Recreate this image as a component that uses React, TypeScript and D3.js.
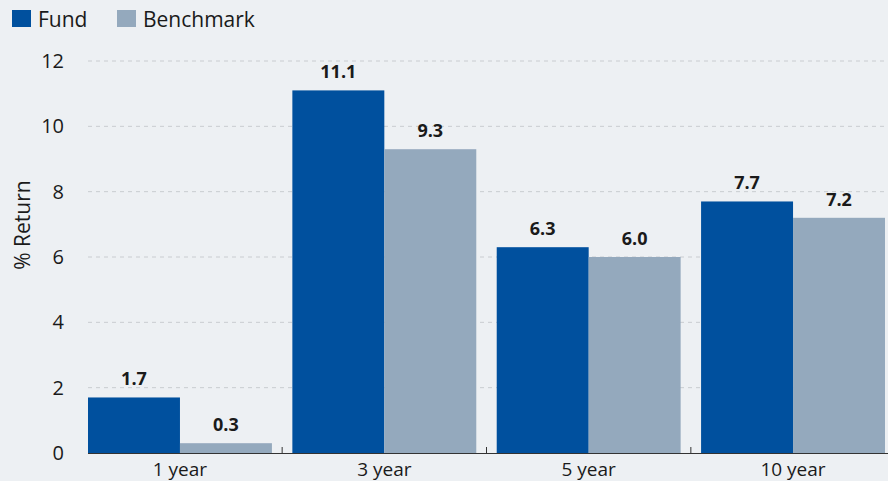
import React, { useEffect, useRef } from 'react';
import * as d3 from 'd3';

const periods = ['1 year', '3 year', '5 year', '10 year'];
const fundValues = [1.7, 11.1, 6.3, 7.7];
const benchmarkValues = [0.3, 9.3, 6.0, 7.2];
const yTicks = [0, 2, 4, 6, 8, 10, 12];
const seriesNames = ['Fund', 'Benchmark'];

const W = 888;
const H = 481;
const FONT = '"Open Sans", "Noto Sans", sans-serif';
const colors = ['#00509e', '#94a9bd'];

const App = () => {
    const svgRef = useRef<SVGSVGElement | null>(null);

    useEffect(() => {
        if (!svgRef.current) return;
        const svg = d3.select(svgRef.current);
        svg.selectAll('*').remove();

        svg.append('rect').attr('width', W).attr('height', H).attr('fill', '#edf0f3');

        const x = d3.scaleBand<string>().domain(periods).range([88, 885]).paddingInner(0.1).paddingOuter(0);
        const y = d3.scaleLinear().domain([0, 12]).range([453, 61]);
        const inner = d3.scaleBand<string>().domain(seriesNames).range([0, x.bandwidth()]);

        // gridlines
        svg.append('g')
            .selectAll('line')
            .data(yTicks.filter((t) => t > 0))
            .enter()
            .append('line')
            .attr('x1', 88)
            .attr('x2', 885)
            .attr('y1', (d) => y(d))
            .attr('y2', (d) => y(d))
            .attr('stroke', '#c9ccd0')
            .attr('stroke-width', 1)
            .attr('stroke-dasharray', '4,4');

        // y tick labels
        svg.append('g')
            .selectAll('text')
            .data(yTicks)
            .enter()
            .append('text')
            .attr('x', 64)
            .attr('y', (d) => y(d) + 7)
            .attr('text-anchor', 'end')
            .attr('font-family', FONT)
            .attr('font-size', 20)
            .attr('fill', '#1a1a1a')
            .text((d) => d);

        // y title
        svg.append('text')
            .attr('transform', `translate(30, 225) rotate(-90)`)
            .attr('text-anchor', 'middle')
            .attr('font-family', FONT)
            .attr('font-size', 21)
            .attr('fill', '#1a1a1a')
            .text('% Return');

        // bars
        const groups = svg.append('g')
            .selectAll('g')
            .data(periods)
            .enter()
            .append('g')
            .attr('transform', (d) => `translate(${x(d)},0)`);

        const series = [fundValues, benchmarkValues];
        groups.each(function (p, i) {
            const g = d3.select(this);
            series.forEach((vals, s) => {
                const v = vals[i];
                g.append('rect')
                    .attr('x', inner(seriesNames[s])!)
                    .attr('y', y(v))
                    .attr('width', inner.bandwidth())
                    .attr('height', y(0) - y(v))
                    .attr('fill', colors[s]);
                g.append('text')
                    .attr('x', inner(seriesNames[s])! + inner.bandwidth() / 2)
                    .attr('y', y(v) - 12)
                    .attr('text-anchor', 'middle')
                    .attr('font-family', FONT)
                    .attr('font-size', 18)
                    .attr('font-weight', 'bold')
                    .attr('fill', '#1a1a1a')
                    .text(v.toFixed(1));
            });
        });

        // x axis
        svg.append('line')
            .attr('x1', 88)
            .attr('x2', 888)
            .attr('y1', 453.5)
            .attr('y2', 453.5)
            .attr('stroke', '#333')
            .attr('stroke-width', 1.2);

        const step = x.step();
        svg.append('g')
            .selectAll('line')
            .data(periods.slice(1))
            .enter()
            .append('line')
            .attr('x1', (d) => x(d)! - (step - x.bandwidth()) / 2)
            .attr('x2', (d) => x(d)! - (step - x.bandwidth()) / 2)
            .attr('y1', 447)
            .attr('y2', 453)
            .attr('stroke', '#333')
            .attr('stroke-width', 1);

        svg.append('g')
            .selectAll('text')
            .data(periods)
            .enter()
            .append('text')
            .attr('x', (d) => x(d)! + x.bandwidth() / 2)
            .attr('y', 476)
            .attr('text-anchor', 'middle')
            .attr('font-family', FONT)
            .attr('font-size', 19)
            .attr('fill', '#1a1a1a')
            .text((d) => d);

        // legend
        const legendX = [12, 117];
        seriesNames.forEach((name, s) => {
            svg.append('rect')
                .attr('x', legendX[s])
                .attr('y', 10)
                .attr('width', 19)
                .attr('height', 17)
                .attr('fill', colors[s]);
            svg.append('text')
                .attr('x', legendX[s] + 26)
                .attr('y', 27)
                .attr('font-family', FONT)
                .attr('font-size', 21)
                .attr('fill', '#1a1a1a')
                .text(name);
        });
    }, []);

    return (
        <div style={{ position: 'fixed', top: 0, left: 0 }}>
            <svg ref={svgRef} width={W} height={H} style={{ display: 'block' }}></svg>
        </div>
    );
};

export default App;
